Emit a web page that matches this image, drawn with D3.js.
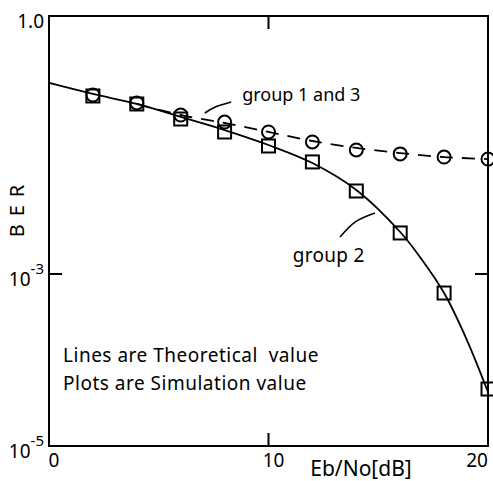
<!DOCTYPE html>
<html lang='en'>
	<head>
		<title>BER vs Eb/No</title>
		<meta charset=utf-8>
		<script src="https://cdn.jsdelivr.net/npm/d3@7/dist/d3.min.js" charset="utf-8"></script>
		<style>
			body {
				margin: 0;
				background-color: white;
			}
			text {
				font-family: "Noto Sans", sans-serif;
				fill: black;
			}
		</style>
	</head>
	<body>
		<svg id='chart' width="493" height="481"></svg>
	</body>

	<script>
		// data
		var ebno = [2, 4, 6, 8, 10, 12, 14, 16, 18, 20];
		var simGroup13 = [0.1206, 0.0974, 0.0706, 0.0585, 0.0448, 0.0343, 0.0277, 0.0249, 0.0229, 0.0217];
		var simGroup2 = [0.1175, 0.0948, 0.0634, 0.0448, 0.0308, 0.0201, 0.00923, 0.0030, 0.000601, 0.000046];

		var theoryX2 = [0, 2, 4, 6, 8, 10, 12, 14, 16, 17, 18, 19, 20];
		var theoryGroup2 = [0.1664, 0.124, 0.0948, 0.067, 0.0472, 0.0316, 0.0195, 0.00948, 0.00308, 0.001455, 0.000601, 0.00018, 0.0000425];
		var theoryX13 = [4, 6, 8, 10, 12, 14, 16, 18, 20];
		var theoryGroup13 = [0.0948, 0.0706, 0.057, 0.0448, 0.0352, 0.0292, 0.0255, 0.0229, 0.0217];

		var xTicks = [0, 10, 20];
		var yTicks = [1, 1e-3, 1e-5];
		var yTickLabels = [['1.0', ''], ['10', '-3'], ['10', '-5']];

		// settings
		var svg = d3.select('#chart');

		var x = d3.scaleLinear().domain([0, 20]).range([49, 488]);
		var y = d3.scaleLog().domain([1e-5, 1]).range([446, 16]);

		// frame
		svg.append('rect')
			.attr('x', x(0)).attr('y', y(1))
			.attr('width', x(20) - x(0)).attr('height', y(1e-5) - y(1))
			.attr('fill', 'none').attr('stroke', 'black').attr('stroke-width', 2);

		// inner ticks on all four sides
		var tlen = 13;
		var inner = svg.append('g').attr('stroke', 'black').attr('stroke-width', 2);
		xTicks.slice(1, -1).forEach(function(v) {
			inner.append('line').attr('x1', x(v)).attr('x2', x(v)).attr('y1', y(1e-5)).attr('y2', y(1e-5) - tlen);
			inner.append('line').attr('x1', x(v)).attr('x2', x(v)).attr('y1', y(1)).attr('y2', y(1) + tlen);
		});
		yTicks.slice(1, -1).forEach(function(v) {
			inner.append('line').attr('x1', x(0)).attr('x2', x(0) + tlen).attr('y1', y(v)).attr('y2', y(v));
			inner.append('line').attr('x1', x(20)).attr('x2', x(20) - tlen).attr('y1', y(v)).attr('y2', y(v));
		});

		// x tick labels
		xTicks.forEach(function(v, i) {
			svg.append('text')
				.attr('x', x(v) + (i === xTicks.length - 1 ? -11 : 5))
				.attr('y', 467)
				.attr('text-anchor', 'middle')
				.attr('font-size', 19)
				.text(v);
		});

		// y tick labels, with exponent
		yTicks.forEach(function(v, i) {
			var t = svg.append('text')
				.attr('x', 44)
				.attr('y', y(v) + 12)
				.attr('text-anchor', 'end')
				.attr('font-size', 19);
			t.append('tspan').text(yTickLabels[i][0]);
			if (yTickLabels[i][1] !== '') {
				t.append('tspan').attr('dy', -12).attr('font-size', 15).text(yTickLabels[i][1]);
			}
		});

		// axis titles
		svg.append('text')
			.attr('x', 361).attr('y', 476)
			.attr('text-anchor', 'middle')
			.attr('font-size', 21)
			.text('Eb/No[dB]');

		svg.append('text')
			.attr('transform', 'translate(24,207) rotate(-90)')
			.attr('text-anchor', 'middle')
			.attr('font-size', 20)
			.attr('letter-spacing', 8)
			.text('BER');

		// theoretical curves
		var line = d3.line()
			.x(function(d) { return x(d[0]); })
			.y(function(d) { return y(d[1]); })
			.curve(d3.curveCatmullRom.alpha(0.5));

		svg.append('path')
			.datum(d3.zip(theoryX2, theoryGroup2))
			.attr('d', line)
			.attr('fill', 'none').attr('stroke', 'black').attr('stroke-width', 1.8);

		svg.append('path')
			.datum(d3.zip(theoryX13, theoryGroup13))
			.attr('d', line)
			.attr('fill', 'none').attr('stroke', 'black').attr('stroke-width', 1.8)
			.attr('stroke-dasharray', '13,9');

		// simulation plots
		var sq = 13;
		svg.append('g').selectAll('rect')
			.data(d3.zip(ebno, simGroup2))
			.join('rect')
			.attr('x', function(d) { return x(d[0]) - sq / 2; })
			.attr('y', function(d) { return y(d[1]) - sq / 2; })
			.attr('width', sq).attr('height', sq)
			.attr('fill', 'none').attr('stroke', 'black').attr('stroke-width', 2);

		svg.append('g').selectAll('circle')
			.data(d3.zip(ebno, simGroup13))
			.join('circle')
			.attr('cx', function(d) { return x(d[0]); })
			.attr('cy', function(d) { return y(d[1]); })
			.attr('r', 6.5)
			.attr('fill', 'none').attr('stroke', 'black').attr('stroke-width', 2);

		// annotations, placed in data units
		var leader = d3.line()
			.x(function(d) { return x(d[0]); })
			.y(function(d) { return y(d[1]); })
			.curve(d3.curveNatural);

		svg.append('path')
			.datum([[7.1, 0.0745], [7.6, 0.088], [8.3, 0.1]])
			.attr('d', leader)
			.attr('fill', 'none').attr('stroke', 'black').attr('stroke-width', 1.6);

		svg.append('path')
			.datum([[13.26, 0.00269], [13.94, 0.00402], [14.85, 0.00512]])
			.attr('d', leader)
			.attr('fill', 'none').attr('stroke', 'black').attr('stroke-width', 1.6);

		var notes = [
			{x: 8.8, v: 0.103, text: 'group 1 and 3', size: 18, ls: 0},
			{x: 11.1, v: 1.38e-3, text: 'group 2', size: 19, ls: 0.3},
			{x: 0.64, v: 9.5e-5, text: 'Lines are Theoretical  value', size: 19, ls: 0.5},
			{x: 0.64, v: 4.48e-5, text: 'Plots are Simulation value', size: 19, ls: 0.5}
		];
		svg.append('g').selectAll('text')
			.data(notes)
			.join('text')
			.attr('x', function(d) { return x(d.x); })
			.attr('y', function(d) { return y(d.v); })
			.attr('font-size', function(d) { return d.size; })
			.attr('letter-spacing', function(d) { return d.ls; })
			.style('white-space', 'pre')
			.text(function(d) { return d.text; });
	</script>
</html>
